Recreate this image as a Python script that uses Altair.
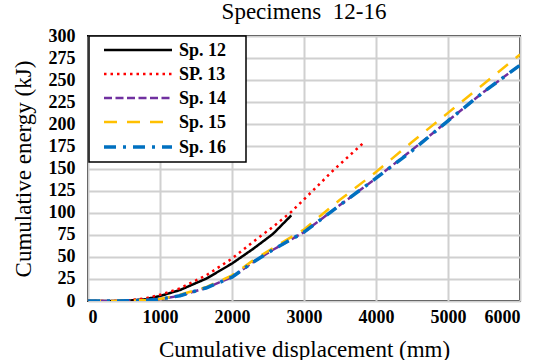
import altair as alt
import pandas as pd

series_names = ["Sp. 12", "SP. 13", "Sp. 14", "Sp. 15", "Sp. 16"]
colors = ["#000000", "#FF0000", "#7030A0", "#FFC000", "#0070C0"]
dashes = [[1, 0], [2.5, 4], [8, 3.5], [13, 10], [12, 7, 3, 7]]
widths = [2.5, 2.5, 2.5, 2.5, 3.5]

x12 = [0, 300, 550, 800, 1000, 1277, 1647, 2000, 2293, 2570, 2824]
y12 = [0, 0, 0.3, 2, 5.6, 12.4, 25.5, 42.4, 59, 76, 97]

x13 = [0, 300, 550, 800, 1000, 1277, 1647, 2000, 2293, 2570, 2824, 3124, 3407, 3839]
y13 = [0, 0, 0.5, 3, 7, 14.3, 29.3, 48, 67, 84, 101, 125, 148, 180]

x_long = [0, 300, 600, 800, 1000, 1277, 1647, 2000, 2293, 2570, 3000, 3490, 4000, 4500, 5000, 5500, 6000]
y14 = [0, 0, 0.2, 0.8, 2, 6, 15, 27, 44, 58, 78, 108, 139, 171, 204, 237, 267]
y15 = [0, 0, 0.3, 1, 2.3, 7, 16, 29, 46, 60, 81, 114, 146, 180, 213, 246, 279]
y16 = [0, 0, 0.2, 0.7, 2, 6, 15, 27, 44, 58, 78, 108, 139, 170, 204, 237, 267]

xs = [x12, x13, x_long, x_long, x_long]
ys = [y12, y13, y14, y15, y16]

font = "Liberation Serif"

layers = []
for name, xv, yv, c, d, w in zip(series_names, xs, ys, colors, dashes, widths):
    df = pd.DataFrame({"disp": xv, "energy": yv})
    layers.append(
        alt.Chart(df).mark_line(color=c, strokeDash=d, strokeWidth=w, clip=True).encode(
            x=alt.X("disp:Q", title="Cumulative displacement (mm)",
                    scale=alt.Scale(domain=[0, 6000], nice=False),
                    axis=alt.Axis(values=[0, 1000, 2000, 3000, 4000, 5000, 6000], format="d")),
            y=alt.Y("energy:Q", title="Cumulative energy (kJ)",
                    scale=alt.Scale(domain=[0, 300], nice=False),
                    axis=alt.Axis(values=list(range(0, 301, 25)))),
            order=alt.Order("disp:Q"),
        )
    )

legend_df = pd.DataFrame({"k": [0]})
box = alt.Chart(legend_df).mark_rect(fill="white", stroke="black", strokeWidth=1.5).encode(
    x=alt.value(1), x2=alt.value(158), y=alt.value(0), y2=alt.value(126)
)
layers.append(box)
row_y = [14, 38, 62, 86, 111]
for name, c, d, w, ry in zip(series_names, colors, dashes, widths, row_y):
    layers.append(
        alt.Chart(legend_df).mark_rule(color=c, strokeDash=d, strokeWidth=w).encode(
            x=alt.value(16), x2=alt.value(84), y=alt.value(ry)
        )
    )
    layers.append(
        alt.Chart(legend_df).mark_text(text=name, font=font, fontSize=18, fontWeight="bold",
                                       color="black", align="left", baseline="middle").encode(
            x=alt.value(91), y=alt.value(ry + 1)
        )
    )

chart = alt.layer(*layers).properties(
    width=432, height=265,
    title=alt.TitleParams("Specimens\u00a0\u00a012-16", font=font, fontSize=23,
                          fontWeight="normal", color="black", offset=3),
    autosize=alt.AutoSizeParams(type="none"),
    padding={"left": 88, "top": 36, "right": 23, "bottom": 59},
).configure_view(
    stroke="black", strokeWidth=2
).configure_axis(
    labelFont=font, labelFontSize=18, labelFontWeight="bold", labelColor="black",
    titleFont=font, titleFontSize=23, titleFontWeight="normal", titleColor="black",
    grid=True, gridColor="#d0d0d0", gridWidth=2, gridOpacity=1,
    domain=False, tickSize=0,
).configure_axisY(
    labelPadding=13, titlePadding=13,
).configure_axisX(
    labelPadding=7, titlePadding=12,
)

chart.save("out.html", embed_options={"renderer": "svg", "actions": False})
